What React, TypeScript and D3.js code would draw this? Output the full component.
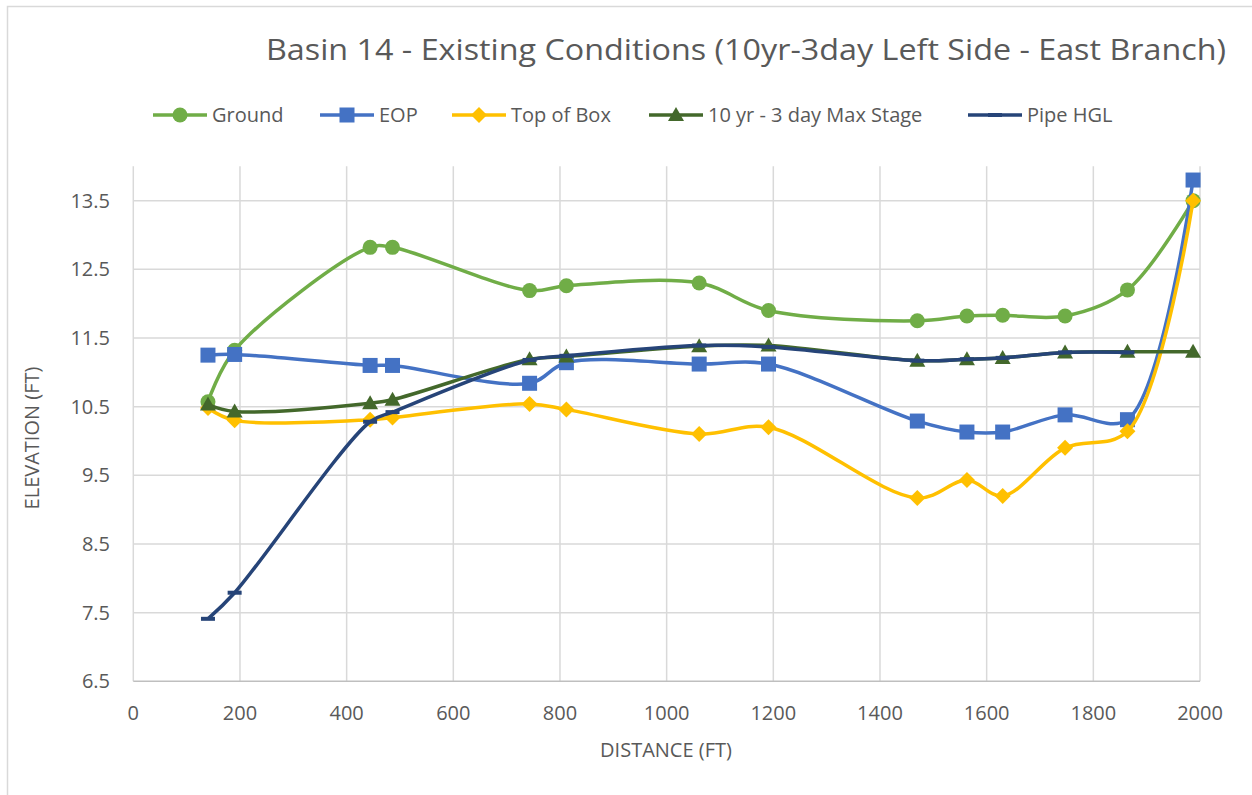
import React from "react";
import * as d3 from "d3";

const distance = [140, 190, 444, 486, 743, 812, 1061, 1191, 1470, 1563, 1630, 1747, 1864, 1987];
const ground = [10.57, 11.32, 12.82, 12.82, 12.19, 12.26, 12.3, 11.9, 11.75, 11.82, 11.83, 11.82, 12.2, 13.5];
const eop = [11.25, 11.26, 11.1, 11.1, 10.84, 11.14, 11.12, 11.12, 10.29, 10.13, 10.13, 10.38, 10.31, 13.8];
const topOfBox = [10.48, 10.3, 10.31, 10.34, 10.54, 10.46, 10.1, 10.2, 9.17, 9.43, 9.2, 9.9, 10.14, 13.5];
const maxStage = [10.53, 10.43, 10.55, 10.6, 11.19, 11.23, 11.38, 11.39, 11.17, 11.19, 11.21, 11.29, 11.3, 11.3];
const pipeHgl = [7.41, 7.79, 10.28, 10.42, 11.18, 11.24, 11.39, 11.37, 11.17, 11.19, 11.21, 11.29, 11.29];

const xTicks = [0, 200, 400, 600, 800, 1000, 1200, 1400, 1600, 1800, 2000];
const yTicks = [6.5, 7.5, 8.5, 9.5, 10.5, 11.5, 12.5, 13.5];

const series = [
  { name: "Ground", values: ground, color: "#70AD47", marker: "circle" },
  { name: "EOP", values: eop, color: "#4472C4", marker: "square" },
  { name: "Top of Box", values: topOfBox, color: "#FFC000", marker: "diamond" },
  { name: "10 yr - 3 day Max Stage", values: maxStage, color: "#43682B", marker: "triangle" },
  { name: "Pipe HGL", values: pipeHgl, color: "#264478", marker: "dash" },
];

const legendX = [153, 320, 452, 649, 968];

const FONT = "'Open Sans', 'Liberation Sans', sans-serif";
const GRAY = "#595959";

const x = d3.scaleLinear().domain([0, 2000]).range([133.3, 1200]);
const y = d3.scaleLinear().domain([6.5, 14]).range([681.3, 166.3]);

function Marker({ kind, cx, cy, color }: { kind: string; cx: number; cy: number; color: string }) {
  if (kind === "circle") return <circle cx={cx} cy={cy} r={7.5} fill={color} />;
  if (kind === "square") return <rect x={cx - 7.5} y={cy - 7.5} width={15} height={15} fill={color} />;
  if (kind === "diamond")
    return <path d={`M${cx},${cy - 8}L${cx + 8},${cy}L${cx},${cy + 8}L${cx - 8},${cy}Z`} fill={color} />;
  if (kind === "triangle")
    return <path d={`M${cx},${cy - 8}L${cx + 8},${cy + 6}L${cx - 8},${cy + 6}Z`} fill={color} />;
  return <rect x={cx - 7} y={cy - 2} width={14} height={4} fill={color} />;
}

export default function App() {
  const line = d3
    .line<[number, number]>()
    .x((d) => x(d[0]))
    .y((d) => y(d[1]))
    .curve(d3.curveCatmullRom.alpha(0.5));

  return (
    <svg width={1252} height={795} style={{ position: "absolute", left: 0, top: 0, background: "#fff" }}>
      <rect x={7.5} y={6.5} width={1260} height={800} fill="#fff" stroke="#d9d9d9" strokeWidth={1.5} />

      <text x={266} y={60} fontFamily={FONT} fontSize={30} fill={GRAY} textLength={960} lengthAdjust="spacingAndGlyphs">
        Basin 14 - Existing Conditions (10yr-3day Left Side - East Branch)
      </text>

      {/* legend */}
      {series.map((s, i) => (
        <g key={s.name}>
          <line x1={legendX[i]} x2={legendX[i] + 54} y1={115} y2={115} stroke={s.color} strokeWidth={3.5} />
          <Marker kind={s.marker} cx={legendX[i] + 27} cy={115} color={s.color} />
          <text x={legendX[i] + 59} y={122} fontFamily={FONT} fontSize={20} fill={GRAY}>
            {s.name}
          </text>
        </g>
      ))}

      {/* grid */}
      {xTicks.map((t) => (
        <line key={"gx" + t} x1={x(t)} x2={x(t)} y1={y(14)} y2={y(6.5)} stroke="#d9d9d9" strokeWidth={1.5} />
      ))}
      {yTicks.map((t) => (
        <line key={"gy" + t} x1={x(0)} x2={x(2000)} y1={y(t)} y2={y(t)} stroke={t === 6.5 ? "#bfbfbf" : "#d9d9d9"} strokeWidth={1.5} />
      ))}

      {/* ticks */}
      {yTicks.map((t) => (
        <text key={"ty" + t} x={110} y={y(t) + 7} textAnchor="end" fontFamily={FONT} fontSize={20} fill={GRAY}>
          {t.toFixed(1)}
        </text>
      ))}
      {xTicks.map((t) => (
        <text key={"tx" + t} x={x(t)} y={720} textAnchor="middle" fontFamily={FONT} fontSize={20} fill={GRAY}>
          {t}
        </text>
      ))}

      <text x={666} y={757} textAnchor="middle" fontFamily={FONT} fontSize={20} fill={GRAY}>
        DISTANCE (FT)
      </text>
      <text transform="translate(39,438) rotate(-90)" textAnchor="middle" fontFamily={FONT} fontSize={20} fill={GRAY}>
        ELEVATION (FT)
      </text>

      {/* series */}
      {series.map((s) => {
        const pts = s.values.map((v, i) => [distance[i], v] as [number, number]);
        return (
          <g key={"s" + s.name}>
            <path d={line(pts) || ""} fill="none" stroke={s.color} strokeWidth={3.5} strokeLinejoin="round" />
            {pts.map((p, i) => (
              <Marker key={i} kind={s.marker} cx={x(p[0])} cy={y(p[1])} color={s.color} />
            ))}
          </g>
        );
      })}
    </svg>
  );
}
